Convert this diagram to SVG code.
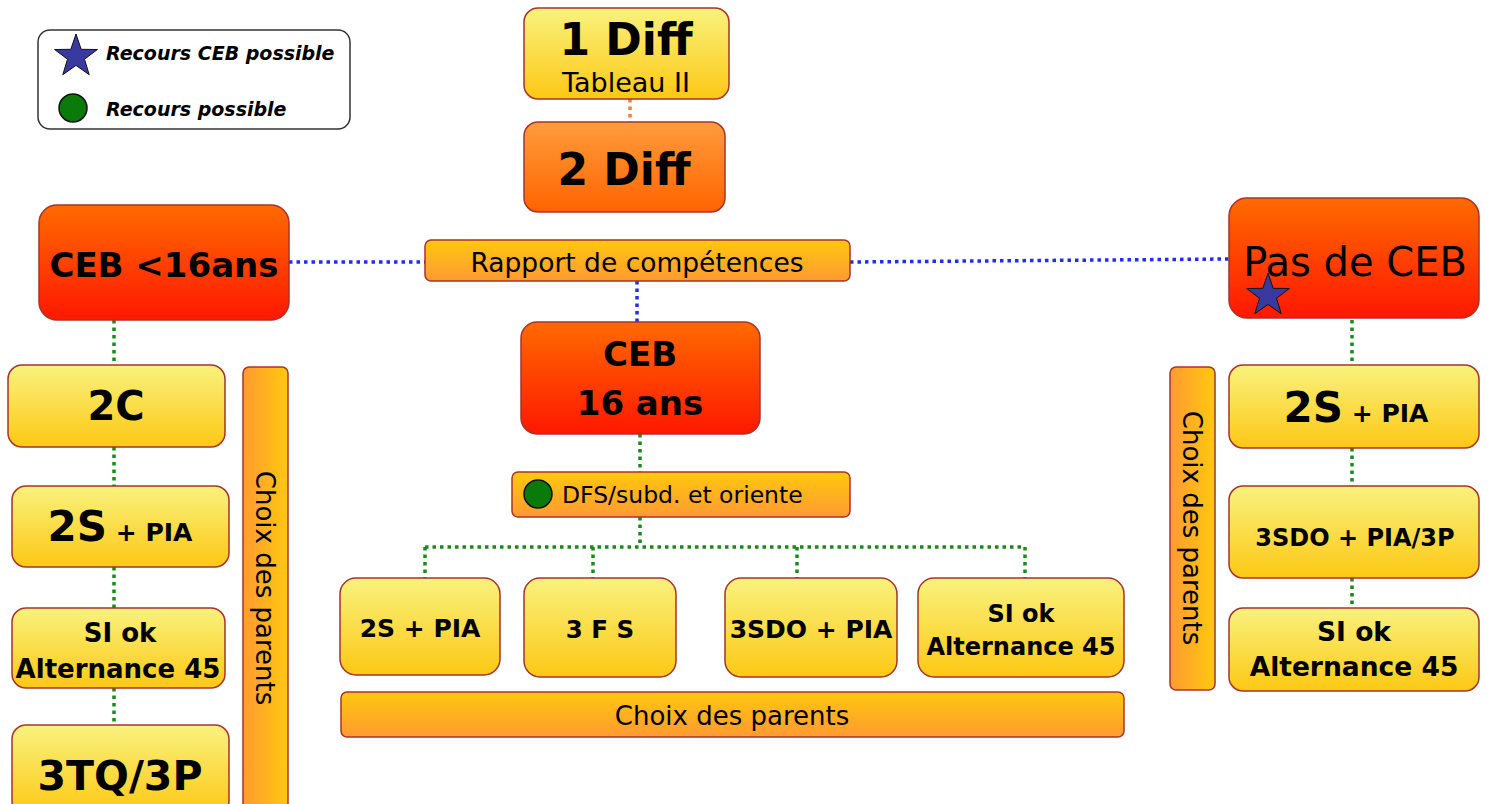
<svg xmlns="http://www.w3.org/2000/svg" width="1491" height="804" viewBox="0 0 1491 804">
<defs>
<linearGradient id="gY" x1="0" y1="0" x2="0" y2="1"><stop offset="0" stop-color="#f9f27e"/><stop offset="1" stop-color="#fdc814"/></linearGradient>
<linearGradient id="gO" x1="0" y1="0" x2="0" y2="1"><stop offset="0" stop-color="#ff9c3c"/><stop offset="1" stop-color="#ff6400"/></linearGradient>
<linearGradient id="gR" x1="0" y1="0" x2="0" y2="1"><stop offset="0" stop-color="#ff6a00"/><stop offset="1" stop-color="#ff1800"/></linearGradient>
<linearGradient id="gB" x1="0" y1="0" x2="0" y2="1"><stop offset="0" stop-color="#ffc80e"/><stop offset="1" stop-color="#ff9a32"/></linearGradient>
<linearGradient id="gV" x1="0" y1="0" x2="1" y2="0"><stop offset="0" stop-color="#ff9a32"/><stop offset="1" stop-color="#ffc80e"/></linearGradient>
</defs>
<style>
.b{stroke:#a8332a;stroke-width:1.5}
.t{font-family:"DejaVu Sans",Verdana,sans-serif;fill:#000;text-anchor:middle}
.s{text-anchor:start}
.bd{font-weight:bold}
.gd{fill:none;stroke:#1a8a1a;stroke-width:3.5;stroke-dasharray:3.5 4}
.bl{fill:none;stroke:#1f2cff;stroke-width:3.5;stroke-dasharray:3.5 4}
.od{fill:none;stroke:#ff7a2a;stroke-width:3.5;stroke-dasharray:3.5 4}
</style>
<rect width="1491" height="804" fill="#fff"/>

<g id="connectors">
<path class="od" d="M630 99V122"/>
<path class="bl" d="M289 262H425"/>
<path class="bl" d="M850 262L1229 259"/>
<path class="bl" d="M637 281V322"/>
<path class="gd" d="M640 434V472"/>
<path class="gd" d="M640 517V547M425 547H1025M425 547V578M593 547V578M797 547V578M1025 547V578"/>
<path class="gd" d="M114 320V365M114 447V486M114 567V608M114 688V725"/>
<path class="gd" d="M1352 320V365M1352 448V486M1352 578V608"/>
</g>

<g id="legend">
<rect x="38" y="30" width="312" height="99" rx="12" fill="#fff" stroke="#333" stroke-width="1.5"/>
<polygon points="76,34 81.2,49.3 97.4,49.5 84.5,59.2 89.2,74.7 76,65.4 62.8,74.7 67.5,59.2 54.6,49.5 70.8,49.3" fill="#3a3a9e" stroke="#111" stroke-width="1"/>
<circle cx="73" cy="108" r="14" fill="#0a7a0a" stroke="#111" stroke-width="1.5"/>
<text class="t s bd" x="106" y="60" font-size="19" font-style="italic">Recours CEB possible</text>
<text class="t s bd" x="106" y="116" font-size="19" font-style="italic">Recours possible</text>
</g>

<g id="n1diff">
<rect class="b" x="524" y="8" width="205" height="91" rx="14" fill="url(#gY)"/>
<text class="t bd" x="626" y="55" font-size="44">1 Diff</text>
<text class="t" x="626" y="92" font-size="27">Tableau II</text>
</g>
<g id="n2diff">
<rect class="b" x="524" y="122" width="201" height="90" rx="14" fill="url(#gO)"/>
<text class="t bd" x="624" y="185" font-size="44">2 Diff</text>
</g>

<g id="nCEBlt16">
<rect class="b" x="39" y="205" width="250" height="115" rx="18" fill="url(#gR)"/>
<text class="t bd" x="164" y="277" font-size="34">CEB &lt;16ans</text>
</g>

<g id="nRapport">
<rect class="b" x="425" y="240" width="425" height="41" rx="6" fill="url(#gB)"/>
<text class="t" x="637" y="272" font-size="26.5">Rapport de compétences</text>
</g>

<g id="nPasCEB">
<rect class="b" x="1229" y="198" width="250" height="120" rx="18" fill="url(#gR)"/>
<text class="t" x="1355" y="276" font-size="40">Pas de CEB</text>
<polygon points="1268,273 1273.2,288.3 1289.4,288.5 1276.5,298.2 1281.2,313.7 1268,304.4 1254.8,313.7 1259.5,298.2 1246.6,288.5 1262.8,288.3" fill="#3a3a9e" stroke="#111" stroke-width="1"/>
</g>

<g id="nCEB16">
<rect class="b" x="521" y="322" width="239" height="112" rx="16" fill="url(#gR)"/>
<text class="t bd" x="640" y="366" font-size="34">CEB</text>
<text class="t bd" x="640" y="415" font-size="34">16 ans</text>
</g>

<g id="nDFS">
<rect class="b" x="512" y="472" width="338" height="45" rx="6" fill="url(#gB)"/>
<circle cx="538" cy="494" r="14" fill="#0a7a0a" stroke="#111" stroke-width="1.5"/>
<text class="t s" x="562" y="503" font-size="23.5">DFS/subd. et oriente</text>
</g>

<g id="nC2SPIA">
<rect class="b" x="340" y="578" width="160" height="97" rx="16" fill="url(#gY)"/>
<text class="t bd" x="420" y="637" font-size="25">2S + PIA</text>
</g>
<g id="nC3FS">
<rect class="b" x="524" y="578" width="152" height="99" rx="16" fill="url(#gY)"/>
<text class="t bd" x="600" y="638" font-size="24.5">3 F S</text>
</g>
<g id="nC3SDO">
<rect class="b" x="725" y="578" width="172" height="99" rx="16" fill="url(#gY)"/>
<text class="t bd" x="811" y="638" font-size="25">3SDO + PIA</text>
</g>
<g id="nCSI">
<rect class="b" x="918" y="578" width="206" height="99" rx="16" fill="url(#gY)"/>
<text class="t bd" x="1021" y="622" font-size="24">SI ok</text>
<text class="t bd" x="1021" y="655" font-size="24">Alternance 45</text>
</g>
<g id="nChoixBottom">
<rect class="b" x="341" y="692" width="783" height="45" rx="6" fill="url(#gB)"/>
<text class="t" x="732" y="725" font-size="26">Choix des parents</text>
</g>

<g id="nL2C">
<rect class="b" x="8" y="365" width="217" height="82" rx="14" fill="url(#gY)"/>
<text class="t bd" x="116" y="420" font-size="40">2C</text>
</g>
<g id="nL2S">
<rect class="b" x="12" y="486" width="217" height="81" rx="14" fill="url(#gY)"/>
<text class="t bd" x="120" y="541"><tspan font-size="42">2S</tspan><tspan font-size="25"> + PIA</tspan></text>
</g>
<g id="nLSI">
<rect class="b" x="12" y="608" width="213" height="80" rx="14" fill="url(#gY)"/>
<text class="t bd" x="120" y="642" font-size="26">SI ok</text>
<text class="t bd" x="118" y="678" font-size="26">Alternance 45</text>
</g>
<g id="nL3TQ">
<rect class="b" x="12" y="725" width="217" height="90" rx="14" fill="url(#gY)"/>
<text class="t bd" x="120" y="790" font-size="41">3TQ/3P</text>
</g>
<g id="nLChoix">
<rect class="b" x="243" y="367" width="45" height="450" rx="6" fill="url(#gV)"/>
<text class="t" transform="translate(256 588) rotate(90)" font-size="26">Choix des parents</text>
</g>

<g id="nRChoix">
<rect class="b" x="1170" y="367" width="45" height="323" rx="6" fill="url(#gV)"/>
<text class="t" transform="translate(1183 528) rotate(90)" font-size="26">Choix des parents</text>
</g>
<g id="nR2S">
<rect class="b" x="1229" y="365" width="250" height="83" rx="14" fill="url(#gY)"/>
<text class="t bd" x="1356" y="422"><tspan font-size="42">2S</tspan><tspan font-size="25"> + PIA</tspan></text>
</g>
<g id="nR3SDO">
<rect class="b" x="1229" y="486" width="250" height="92" rx="14" fill="url(#gY)"/>
<text class="t bd" x="1355" y="546" font-size="24">3SDO + PIA/3P</text>
</g>
<g id="nRSI">
<rect class="b" x="1229" y="608" width="250" height="83" rx="14" fill="url(#gY)"/>
<text class="t bd" x="1354" y="641" font-size="26.5">SI ok</text>
<text class="t bd" x="1354" y="676" font-size="26.5">Alternance 45</text>
</g>
</svg>
